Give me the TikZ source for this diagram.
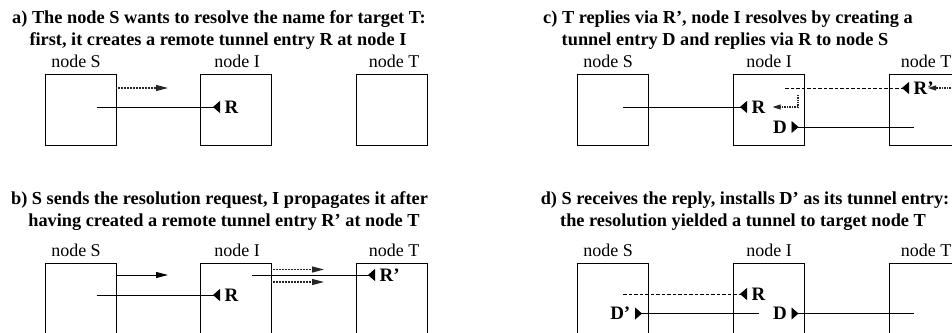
\documentclass[tikz,border=0pt]{standalone}
\usepackage{fontspec}
\setmainfont{Liberation Serif}
\usetikzlibrary{arrows.meta}

\begin{document}
\begin{tikzpicture}[x=1pt,y=-1pt]

	\tikzstyle caption line=[anchor=base, inner sep=0pt, font=\fontsize{18.3}{22}\selectfont\bfseries];
	\tikzstyle node label=[anchor=base, inner sep=0pt, font=\fontsize{18}{21}\selectfont];
	\tikzstyle node box=[draw, line width=0.8pt, minimum size=71pt, inner sep=0pt];
	\tikzstyle entry=[inner xsep=4.5pt, inner ysep=1pt, font=\fontsize{19}{21}\selectfont\bfseries];
	\tikzstyle tunnel lines=[line width=0.9pt, -{Triangle[reversed,length=7pt,width=12pt]}];
	\tikzstyle dashed tunnel=[tunnel lines, dash pattern=on 3.5pt off 2pt];
	\tikzstyle request lines=[line width=0.9pt, -{Triangle[length=12pt,width=6pt]}];
	\tikzstyle request dotted=[request lines, line width=1.1pt, dash pattern=on 1pt off 0.5pt, black!85];
	\tikzstyle reply dotted=[line width=1.1pt, dash pattern=on 1pt off 0.7pt, black!85, -{Triangle[length=8pt,width=5pt]}];

	\useasboundingbox (0,0) rectangle (952,332);
	\clip (0,0) rectangle (952,332);

	% a) S creates R at I
	\node[caption line] (a1) at (219,23) {a) The node S wants to resolve the name for target T:};
	\node[caption line] (a2) at (218,45) {first, it creates a remote tunnel entry R at node I};
	\node[node label] (aSl) at (76,67) {node S};
	\node[node label] (aIl) at (237,67) {node I};
	\node[node label] (aTl) at (394,67) {node T};
	\node[node box] (aS) at (80.5,109.5) {};
	\node[node box] (aI) at (235.5,109.5) {};
	\node[node box] (aT) at (392,109.5) {};
	\node[entry, anchor=west] (aR) at (220,107) {R};
	\coordinate (aReq) at (116,88);
	\coordinate (aReqEnd) at (168,88);
	\coordinate (aOut) at (97,107);
	\draw[request dotted] (aReq) -- (aReqEnd);
	\draw[tunnel lines] (aOut) -- (aR.west);

	% b) request propagated, R' at T
	\node[caption line] (b1) at (219.5,204) {b) S sends the resolution request, I propagates it after};
	\node[caption line] (b2) at (224,226) {having created a remote tunnel entry R' at node T};
	\node[node label] (bSl) at (76,256) {node S};
	\node[node label] (bIl) at (237,256) {node I};
	\node[node label] (bTl) at (394,256) {node T};
	\node[node box] (bS) at (80.5,298.5) {};
	\node[node box] (bI) at (235.5,298.5) {};
	\node[node box] (bT) at (392,298.5) {};
	\node[entry, anchor=west] (bR) at (220,295) {R};
	\node[entry, anchor=west] (bRp) at (375,275) {R'};
	\coordinate (bReq) at (116,275);
	\coordinate (bReqEnd) at (168,275);
	\coordinate (bOut) at (97,295);
	\coordinate (bFwdA) at (271,269.5);
	\coordinate (bFwdAEnd) at (324,269.5);
	\coordinate (bFwdB) at (271,282);
	\coordinate (bFwdBEnd) at (324,282);
	\coordinate (bIOut) at (252,275);
	\draw[request lines] (bReq) -- (bReqEnd);
	\draw[tunnel lines] (bOut) -- (bR.west);
	\draw[request dotted] (bFwdA) -- (bFwdAEnd);
	\draw[request dotted] (bFwdB) -- (bFwdBEnd);
	\draw[tunnel lines] (bIOut) -- (bRp.west);

	% c) reply, D at I
	\node[caption line] (c1) at (728,23) {c) T replies via R', node I resolves by creating a};
	\node[caption line] (c2) at (725,45) {tunnel entry D and replies via R to node S};
	\node[node label] (cSl) at (608,67) {node S};
	\node[node label] (cIl) at (769,67) {node I};
	\node[node label] (cTl) at (926,67) {node T};
	\node[node box] (cS) at (613,109.5) {};
	\node[node box] (cI) at (768.5,109.5) {};
	\node[node box] (cT) at (924.5,109.5) {};
	\node[entry, anchor=west] (cRp) at (909,88) {R'};
	\node[entry, anchor=west] (cR) at (747,107) {R};
	\node[entry, anchor=east] (cD) at (791.5,127) {D};
	\coordinate (cIOut) at (785,88);
	\coordinate (cReply) at (965,88);
	\coordinate (cTurn) at (798,95);
	\coordinate (cSOut) at (623,107);
	\coordinate (cTOut) at (914,127);
	\draw[dashed tunnel] (cIOut) -- (cRp.west);
	\draw[reply dotted] (cReply) -- ([xshift=19pt]cRp.west);
	\draw[tunnel lines] (cSOut) -- (cR.west);
	\draw[reply dotted, shorten >=2.5pt] (cTurn) |- (cR.east);
	\draw[tunnel lines] (cTOut) -- (cD.east);

	% d) S installs D'
	\node[caption line] (d1) at (745,204) {d) S receives the reply, installs D' as its tunnel entry:};
	\node[caption line] (d2) at (743,226) {the resolution yielded a tunnel to target node T};
	\node[node label] (dSl) at (608,256) {node S};
	\node[node label] (dIl) at (769,256) {node I};
	\node[node label] (dTl) at (926,256) {node T};
	\node[node box] (dS) at (613,298.5) {};
	\node[node box] (dI) at (768.5,298.5) {};
	\node[node box] (dT) at (924.5,298.5) {};
	\node[entry, anchor=west] (dR) at (747,294) {R};
	\node[entry, anchor=east] (dDp) at (635,313.5) {D'};
	\node[entry, anchor=east] (dD) at (791.5,313.5) {D};
	\coordinate (dSOut) at (623,294);
	\coordinate (dIOut) at (759,313.5);
	\coordinate (dTOut) at (914,313.5);
	\draw[dashed tunnel] (dSOut) -- (dR.west);
	\draw[tunnel lines] (dIOut) -- (dDp.east);
	\draw[tunnel lines] (dTOut) -- (dD.east);

\end{tikzpicture}
\end{document}
